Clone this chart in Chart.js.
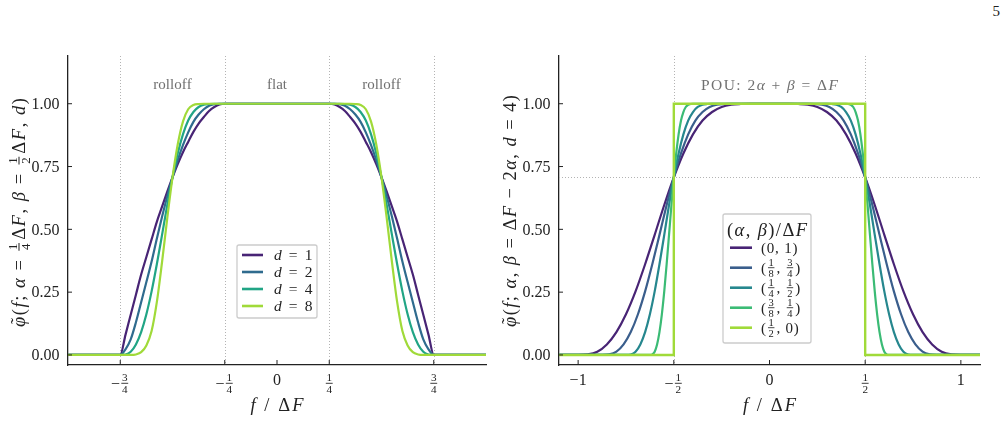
<!DOCTYPE html>
<html>
<head>
<meta charset="utf-8">
<script src="https://cdn.jsdelivr.net/npm/chart.js@4.4.1/dist/chart.umd.min.js"></script>
<style>
  html, body { margin: 0; padding: 0; background: #fff; }
  body { width: 1007px; height: 421px; position: relative; overflow: hidden; font-family: "Liberation Serif", serif; }
  .panel { position: absolute; top: 0; height: 421px; }
  #pageNo { position: absolute; right: 7px; top: 3px; font-size: 15px; color: #222; }
</style>
</head>
<body>
<div id="pageNo">5</div>
<div class="panel" style="left:0;width:500px"><canvas id="leftChart"></canvas></div>
<div class="panel" style="left:500px;width:507px"><canvas id="rightChart"></canvas></div>
<script>
// ---- data ----
// left panel: rising edge sampled on f in [-3/4, -1/4], the falling edge is its mirror
const fRise = [-0.75, -0.725, -0.7, -0.675, -0.65, -0.625, -0.6, -0.575, -0.55, -0.525, -0.5,
               -0.475, -0.45, -0.425, -0.4, -0.375, -0.35, -0.325, -0.3, -0.275, -0.25];
const riseD1 = [0, 0.08, 0.16, 0.24, 0.32, 0.39, 0.46, 0.53, 0.59, 0.65, 0.707,
                0.76, 0.807, 0.848, 0.888, 0.921, 0.947, 0.971, 0.987, 0.997, 1];
const riseD2 = [0, 0.022, 0.062, 0.13, 0.21, 0.29, 0.372, 0.463, 0.55, 0.632, 0.707,
                0.775, 0.835, 0.886, 0.928, 0.957, 0.978, 0.992, 0.998, 1, 1];
const riseD4 = [0, 0.002, 0.013, 0.042, 0.091, 0.162, 0.253, 0.361, 0.478, 0.597, 0.707,
                0.802, 0.878, 0.933, 0.967, 0.987, 0.996, 0.999, 1, 1, 1];
const riseD8 = [0, 0, 0, 0.002, 0.011, 0.038, 0.095, 0.21, 0.37, 0.545, 0.707,
                0.838, 0.929, 0.978, 0.995, 0.999, 1, 1, 1, 1, 1];

// right panel (d = 4): same edge shape, each curve over its own rolloff band
const fEdge0 = [-1, -0.95, -0.9, -0.85, -0.8, -0.75, -0.7, -0.65, -0.6, -0.55, -0.5,
                -0.45, -0.4, -0.35, -0.3, -0.25, -0.2, -0.15, -0.1, -0.05, 0];
const fEdge1 = [-0.875, -0.8375, -0.8, -0.7625, -0.725, -0.6875, -0.65, -0.6125, -0.575, -0.5375, -0.5,
                -0.4625, -0.425, -0.3875, -0.35, -0.3125, -0.275, -0.2375, -0.2, -0.1625, -0.125];
const fEdge2 = fRise;
const fEdge3 = [-0.625, -0.6125, -0.6, -0.5875, -0.575, -0.5625, -0.55, -0.5375, -0.525, -0.5125, -0.5,
                -0.4875, -0.475, -0.4625, -0.45, -0.4375, -0.425, -0.4125, -0.4, -0.3875, -0.375];
const fRect = [-1.1, -0.5, -0.5, 0.5, 0.5, 1.1];
const yRect = [0, 0, 1, 1, 0, 0];

const leftLabels = ['$d$ = 1', '$d$ = 2', '$d$ = 4', '$d$ = 8'];
const rightLabels = ['(0, 1)', '(1/8, 3/4)', '(1/4, 1/2)', '(3/8, 1/4)', '(1/2, 0)'];
const leftXTicks = [-0.75, -0.25, 0, 0.25, 0.75];
const leftXTickLabels = ['−3/4', '−1/4', '0', '1/4', '3/4'];
const rightXTicks = [-1, -0.5, 0, 0.5, 1];
const rightXTickLabels = ['−1', '−1/2', '0', '1/2', '1'];
const yTicks = [0, 0.25, 0.5, 0.75, 1];
const yTickLabels = ['0.00', '0.25', '0.50', '0.75', '1.00'];

const leftColors = ['#482475', '#2f6b8e', '#21a585', '#a0da39'];
const rightColors = ['#482475', '#3a5e8c', '#26878e', '#3bbb75', '#a0da39'];

// ---- helpers ----
function edgeSeries(fs, ys, xMin, xMax) {
  const pts = [{x: xMin, y: 0}];
  fs.forEach((f, i) => pts.push({x: f, y: ys[i]}));
  for (let i = fs.length - 1; i >= 0; i--) {
    if (-fs[i] > pts[pts.length - 1].x) pts.push({x: -fs[i], y: ys[i]});
  }
  pts.push({x: xMax, y: 0});
  return pts;
}

const SERIF = '"Liberation Serif", "Times New Roman", serif';
const fontOf = (size, it) => (it ? 'italic ' : '') + size.toFixed(1) + 'px ' + SERIF;

// tiny markup: $..$ = italic, a/b with digits = stacked fraction, ~ after a letter = tilde accent
function parseMath(str) {
  const segs = [];
  str.split('$').forEach((part, k) => {
    if (!part) return;
    if (k % 2) { segs.push({t: part, it: true}); return; }
    const re = /(\d+)\/(\d+)/g;
    let last = 0, m;
    while ((m = re.exec(part))) {
      if (m.index > last) segs.push({t: part.slice(last, m.index)});
      segs.push({num: m[1], den: m[2]});
      last = re.lastIndex;
    }
    if (last < part.length) segs.push({t: part.slice(last)});
  });
  return segs;
}

function splitGlyphs(s) {
  const out = [];
  for (const ch of s) {
    if (ch === '~' && out.length) out[out.length - 1] += ch;
    else out.push(ch);
  }
  return out;
}

function drawMath(ctx, str, x, y, o) {
  const size = o.size, fs = size * 0.7;
  const segs = parseMath(str);
  let natural = 0, count = 0;
  segs.forEach(s => {
    if (s.t !== undefined) {
      ctx.font = fontOf(size, s.it);
      s.glyphs = splitGlyphs(s.t);
      s.widths = s.glyphs.map(g => ctx.measureText(g.replace('~', '')).width);
      s.widths.forEach(w => { natural += w; count++; });
    } else {
      ctx.font = fontOf(fs, false);
      s.w = Math.max(ctx.measureText(s.num).width, ctx.measureText(s.den).width) + size * 0.24;
      natural += s.w; count++;
    }
  });
  let ls = o.ls || 0;
  if (o.fit) ls = Math.max(0, (o.fit - natural) / Math.max(1, count - 1));
  const total = natural + ls * (count - 1);
  let cx = o.align === 'center' ? x - total / 2 : o.align === 'right' ? x - total : x;
  ctx.save();
  ctx.fillStyle = o.color || '#222';
  ctx.strokeStyle = o.color || '#222';
  ctx.textBaseline = 'alphabetic';
  const base = y + size * 0.33;
  segs.forEach(s => {
    if (s.t !== undefined) {
      ctx.font = fontOf(size, s.it);
      s.glyphs.forEach((g, k) => {
        ctx.textAlign = 'left';
        if (g.endsWith('~')) {
          ctx.fillText(g.slice(0, -1), cx, base);
          ctx.font = fontOf(size, false);
          ctx.textAlign = 'center';
          ctx.fillText('˜', cx + s.widths[k] * 0.58, base - size * 0.08);
          ctx.font = fontOf(size, s.it);
        } else {
          ctx.fillText(g, cx, base);
        }
        cx += s.widths[k] + ls;
      });
    } else {
      ctx.font = fontOf(fs, false);
      ctx.textAlign = 'center';
      const mid = cx + s.w / 2;
      ctx.fillText(s.num, mid, y - size * 0.13);
      ctx.fillText(s.den, mid, y + size * 0.13 + fs * 0.66);
      ctx.lineWidth = Math.max(0.8, size * 0.055);
      ctx.beginPath();
      ctx.moveTo(cx + size * 0.08, y);
      ctx.lineTo(cx + s.w - size * 0.08, y);
      ctx.stroke();
      cx += s.w + ls;
    }
  });
  ctx.restore();
}

function strokeLine(ctx, x1, y1, x2, y2) {
  ctx.beginPath(); ctx.moveTo(x1, y1); ctx.lineTo(x2, y2); ctx.stroke();
}

// guides, inward ticks, math labels and legend box
const decor = {
  id: 'decor',
  beforeDatasetsDraw(chart, args, o) {
    const {ctx, chartArea: a, scales: {x, y}} = chart;
    ctx.save();
    ctx.strokeStyle = '#b3b3b3';
    ctx.lineWidth = 1;
    ctx.setLineDash([1, 2]);
    o.vGuides.forEach(v => {
      const px = Math.round(x.getPixelForValue(v)) + 0.5;
      strokeLine(ctx, px, a.top, px, a.bottom);
    });
    o.hGuides.forEach(v => {
      const py = Math.round(y.getPixelForValue(v)) + 0.5;
      strokeLine(ctx, a.left, py, a.right, py);
    });
    ctx.restore();
  },
  afterDraw(chart, args, o) {
    const {ctx, chartArea: a, scales: {x, y}} = chart;
    ctx.save();
    ctx.strokeStyle = '#222';
    ctx.lineWidth = 1;
    o.xTicks.forEach((v, i) => {
      const px = x.getPixelForValue(v);
      strokeLine(ctx, px, a.bottom, px, a.bottom - 5);
      const lab = o.xTickLabels[i];
      const frac = /\d\/\d/.test(lab);
      drawMath(ctx, lab, px, a.bottom + (frac ? 18.3 : 15), {size: 16, align: 'center'});
    });
    o.yTicks.forEach((v, i) => {
      const py = y.getPixelForValue(v);
      strokeLine(ctx, a.left, py, a.left + 4, py);
      drawMath(ctx, o.yTickLabels[i], a.left - 8.5, py, {size: 16, align: 'right'});
    });
    ctx.restore();

    drawMath(ctx, '$f$ / Δ$F$', (a.left + a.right) / 2, a.bottom + 39.5, {size: 18.5, align: 'center', fit: 53});

    ctx.save();
    ctx.translate(o.yTitleX, o.yTitleY);
    ctx.rotate(-Math.PI / 2);
    drawMath(ctx, o.yTitle, 0, 0, {size: 18.5, align: 'center', fit: o.yTitleLen});
    ctx.restore();

    o.notes.forEach(n => {
      drawMath(ctx, n.text, x.getPixelForValue(n.x), y.getPixelForValue(n.y),
               {size: n.size || 15, align: 'center', color: '#707070', fit: n.fit});
    });

    const L = o.legend;
    ctx.save();
    ctx.fillStyle = 'rgba(255,255,255,0.85)';
    ctx.strokeStyle = '#cccccc';
    ctx.lineWidth = 1.3;
    ctx.beginPath();
    ctx.roundRect(L.box[0], L.box[1], L.box[2], L.box[3], 2);
    ctx.fill();
    ctx.stroke();
    ctx.restore();
    if (L.title) {
      drawMath(ctx, L.title, L.box[0] + L.box[2] / 2, L.titleY, {size: 18.5, align: 'center', fit: L.titleFit});
    }
    chart.data.datasets.forEach((ds, i) => {
      const ry = L.firstRow + i * L.rowGap;
      ctx.save();
      ctx.strokeStyle = ds.borderColor;
      ctx.lineWidth = 2.6;
      strokeLine(ctx, L.lineX, ry, L.lineX + L.lineLen, ry);
      ctx.restore();
      drawMath(ctx, ds.label, L.textX, ry, {size: L.size, align: 'left', ls: L.ls});
    });
  }
};

function panelOptions(xMin, xMax, pad, deco) {
  return {
    responsive: true,
    maintainAspectRatio: false,
    animation: false,
    devicePixelRatio: 1,
    layout: {padding: pad},
    elements: {
      point: {radius: 0, hoverRadius: 0},
      line: {borderWidth: 2.2, cubicInterpolationMode: 'monotone', fill: false}
    },
    plugins: {legend: {display: false}, tooltip: {enabled: false}, decor: deco},
    scales: {
      x: {
        type: 'linear', min: xMin, max: xMax,
        grid: {display: false, drawTicks: false},
        border: {display: true, color: '#222', width: 1.3},
        ticks: {display: false},
        afterFit: s => { s.height = 0; }
      },
      y: {
        type: 'linear', min: -0.04, max: 1.19,
        grid: {display: false, drawTicks: false},
        border: {display: true, color: '#222', width: 1.3},
        ticks: {display: false},
        afterFit: s => { s.width = 0; }
      }
    }
  };
}

// ---- left panel ----
const leftSets = [riseD1, riseD2, riseD4, riseD8].map((rise, i) => ({
  label: leftLabels[i],
  data: edgeSeries(fRise, rise, -1, 1),
  borderColor: leftColors[i],
  order: 10 - i
}));

new Chart(document.getElementById('leftChart'), {
  type: 'line',
  data: {datasets: leftSets},
  options: panelOptions(-1, 1, {left: 68, top: 56, right: 14, bottom: 56}, {
    vGuides: [-0.75, -0.25, 0.25, 0.75],
    hGuides: [],
    xTicks: leftXTicks, xTickLabels: leftXTickLabels,
    yTicks: yTicks, yTickLabels: yTickLabels,
    yTitle: '$φ~$($f$; $α$ = 1/4Δ$F$, $β$ = 1/2Δ$F$, $d$)',
    yTitleX: 19, yTitleY: 212.5, yTitleLen: 229,
    notes: [
      {x: -0.5, y: 1.077, text: 'rolloff'},
      {x: 0, y: 1.077, text: 'flat'},
      {x: 0.5, y: 1.077, text: 'rolloff'}
    ],
    legend: {box: [237, 245, 80, 73], title: null, firstRow: 255, rowGap: 17,
             lineX: 242, lineLen: 21, textX: 274, size: 15.5, ls: 1.6}
  }),
  plugins: [decor]
});

// ---- right panel ----
const rightEdges = [fEdge0, fEdge1, fEdge2, fEdge3];
const rightSets = rightEdges.map((fs, i) => ({
  label: rightLabels[i],
  data: edgeSeries(fs, riseD4, -1.1, 1.1),
  borderColor: rightColors[i],
  order: 10 - i
}));
rightSets.push({
  label: rightLabels[4],
  data: fRect.map((f, i) => ({x: f, y: yRect[i]})),
  borderColor: rightColors[4],
  borderWidth: 2.4,
  cubicInterpolationMode: 'default',
  tension: 0,
  order: 1
});

new Chart(document.getElementById('rightChart'), {
  type: 'line',
  data: {datasets: rightSets},
  options: panelOptions(-1.1, 1.1, {left: 59, top: 56, right: 27, bottom: 56}, {
    vGuides: [-0.5, 0.5],
    hGuides: [0.7071],
    xTicks: rightXTicks, xTickLabels: rightXTickLabels,
    yTicks: yTicks, yTickLabels: yTickLabels,
    yTitle: '$φ~$($f$; $α$, $β$ = Δ$F$ − 2$α$, $d$ = 4)',
    yTitleX: 10, yTitleY: 211, yTitleLen: 232,
    notes: [{x: 0, y: 1.077, text: 'POU: 2$α$ + $β$ = Δ$F$', fit: 137, size: 15.5}],
    legend: {box: [223, 214, 88, 129], title: '($α$, $β$)/Δ$F$', titleY: 230, titleFit: 80,
             firstRow: 247.7, rowGap: 20, lineX: 230, lineLen: 22, textX: 261, size: 15, ls: 0.8}
  }),
  plugins: [decor]
});
</script>
</body>
</html>
